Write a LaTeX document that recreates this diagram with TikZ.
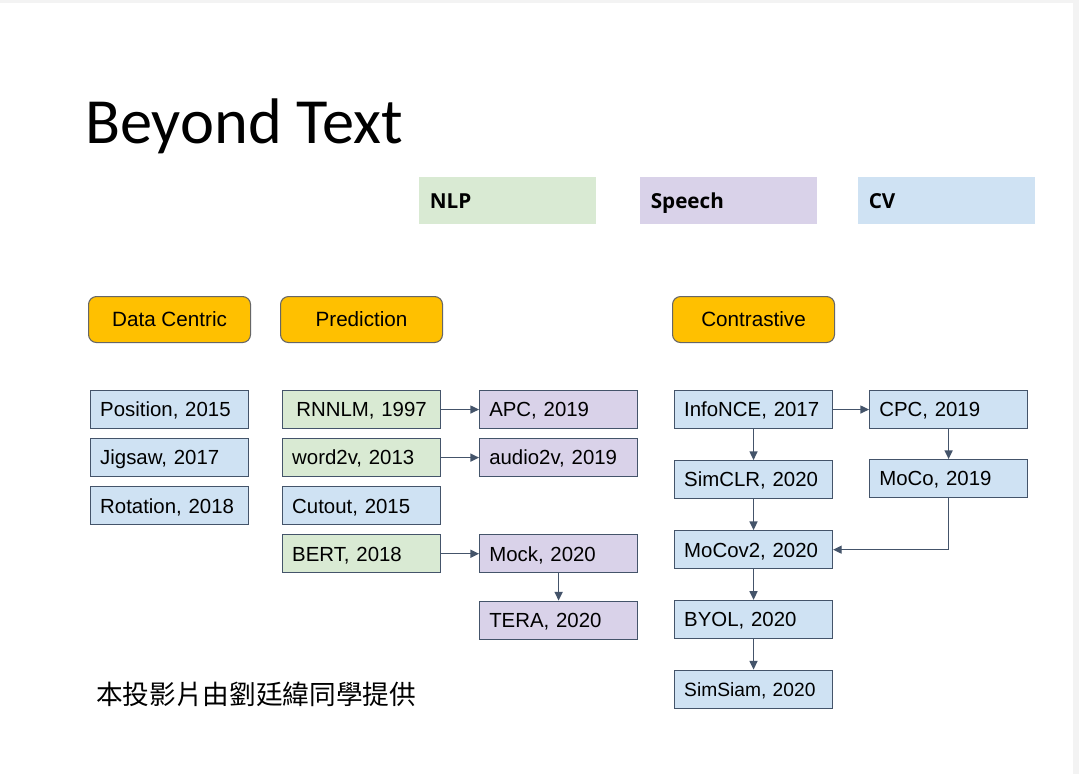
\documentclass[tikz,border=0pt]{standalone}
\usepackage{fontspec}
\setmainfont{Liberation Sans}
\newfontfamily\titlefont{Carlito}
\newfontfamily\tagfont{Open Sans}
\newfontfamily\cjkfont{Noto Sans CJK TC}
\usetikzlibrary{positioning,arrows.meta}

\definecolor{nlpgreen}{HTML}{D9EAD3}
\definecolor{speechpurple}{HTML}{D9D2E9}
\definecolor{cvblue}{HTML}{CFE2F3}
\definecolor{catorange}{HTML}{FFC000}
\definecolor{catedge}{HTML}{666666}
\definecolor{edge}{HTML}{44546A}
\definecolor{frame}{HTML}{F3F3F3}

\begin{document}
\begin{tikzpicture}[
			x=0.75pt, y=-0.75pt,
			node distance=6.75pt,
			block/.style={rectangle, draw=edge, line width=0.8pt, minimum width=118.5pt, minimum height=28.5pt, text width=104pt, inner xsep=7.25pt, align=left, text height=11pt, text depth=0pt, font=\fontsize{15.3pt}{17pt}\selectfont},
			cat/.style={rectangle, draw=catedge, line width=0.8pt, rounded corners=6pt, fill=catorange, minimum width=121.5pt, minimum height=34.5pt, align=center, text height=11.1pt, text depth=0pt, font=\fontsize{15.5pt}{18pt}\selectfont, anchor=north west},
			tag/.style={rectangle, fill=#1, minimum width=132.75pt, minimum height=35.25pt, text width=117pt, inner xsep=7.9pt, align=left, text height=11.1pt, text depth=0pt, font=\tagfont\bfseries\fontsize{15.5pt}{18pt}\selectfont, anchor=north west},
			arrow/.style={-{Triangle[length=6.5pt,width=6pt]}, line width=1pt, draw=edge}
			]
			
			% Slide
			\fill[frame] (0,0) rectangle (1079,774);
			\fill[white] (0,3) rectangle (1073,774);
			\useasboundingbox (0,0) rectangle (1079,774);
			
			% Title
			\node[anchor=base west, inner sep=0, font=\titlefont\fontsize{48.3pt}{58pt}\selectfont] (title) at (85,143) {Beyond Text};
			
			% Legend
			\node[tag=nlpgreen] (nlp) at (419,177) {NLP};
			\node[tag=speechpurple] (speech) at (640,177) {Speech};
			\node[tag=cvblue] (cv) at (858,177) {CV};
			
			% Categories
			\node[cat] (datacentric) at (88,296) {Data Centric};
			\node[cat] (prediction) at (280,296) {Prediction};
			\node[cat] (contrastive) at (672,296) {Contrastive};
			
			% Data centric
			\node[block, fill=cvblue, anchor=north west] (position) at (90,390) {Position, 2015};
			\node[block, fill=cvblue, below=of position] (jigsaw) {Jigsaw, 2017};
			\node[block, fill=cvblue, below=of jigsaw] (rotation) {Rotation, 2018};
			
			% Prediction
			\node[block, fill=nlpgreen, align=center, anchor=north west] (rnnlm) at (282,390) {RNNLM, 1997};
			\node[block, fill=nlpgreen, below=of rnnlm] (word2v) {word2v, 2013};
			\node[block, fill=cvblue, below=of word2v] (cutout) {Cutout, 2015};
			\node[block, fill=nlpgreen, below=of cutout] (bert) {BERT, 2018};
			\node[block, fill=speechpurple, right=28.5pt of rnnlm] (apc) {APC, 2019};
			\node[block, fill=speechpurple, right=28.5pt of word2v] (audio2v) {audio2v, 2019};
			\node[block, fill=speechpurple, right=28.5pt of bert] (mock) {Mock, 2020};
			\node[block, fill=speechpurple, below=20.5pt of mock] (tera) {TERA, 2020};
			
			% Contrastive
			\node[block, fill=cvblue, anchor=north west] (infonce) at (674,390) {InfoNCE, 2017};
			\node[block, fill=cvblue, below=23.25pt of infonce] (simclr) {SimCLR, 2020};
			\node[block, fill=cvblue, below=23.25pt of simclr] (mocov2) {MoCov2, 2020};
			\node[block, fill=cvblue, below=23pt of mocov2] (byol) {BYOL, 2020};
			\node[block, fill=cvblue, below=23pt of byol, text height=10.3pt, font=\fontsize{14.4pt}{17pt}\selectfont] (simsiam) {SimSiam, 2020};
			\node[block, fill=cvblue, right=27pt of infonce] (cpc) {CPC, 2019};
			\node[block, fill=cvblue, below=22.5pt of cpc] (moco) {MoCo, 2019};
			
			% Arrows
			\draw[arrow] (rnnlm) -- (apc);
			\draw[arrow] (word2v) -- (audio2v);
			\draw[arrow] (bert) -- (mock);
			\draw[arrow] (mock) -- (tera);
			\draw[arrow] (infonce) -- (cpc);
			\draw[arrow] (infonce) -- (simclr);
			\draw[arrow] (simclr) -- (mocov2);
			\draw[arrow] (cpc) -- (moco);
			\draw[arrow] (moco.south) |- (mocov2.east);
			\draw[arrow] (mocov2) -- (byol);
			\draw[arrow] (byol) -- (simsiam);
			
			% Credit
			\node[anchor=base west, inner sep=0, font=\cjkfont\fontsize{20pt}{23pt}\selectfont] (credit) at (96,704) {本投影片由劉廷緯同學提供};
			
		\end{tikzpicture}
\end{document}
